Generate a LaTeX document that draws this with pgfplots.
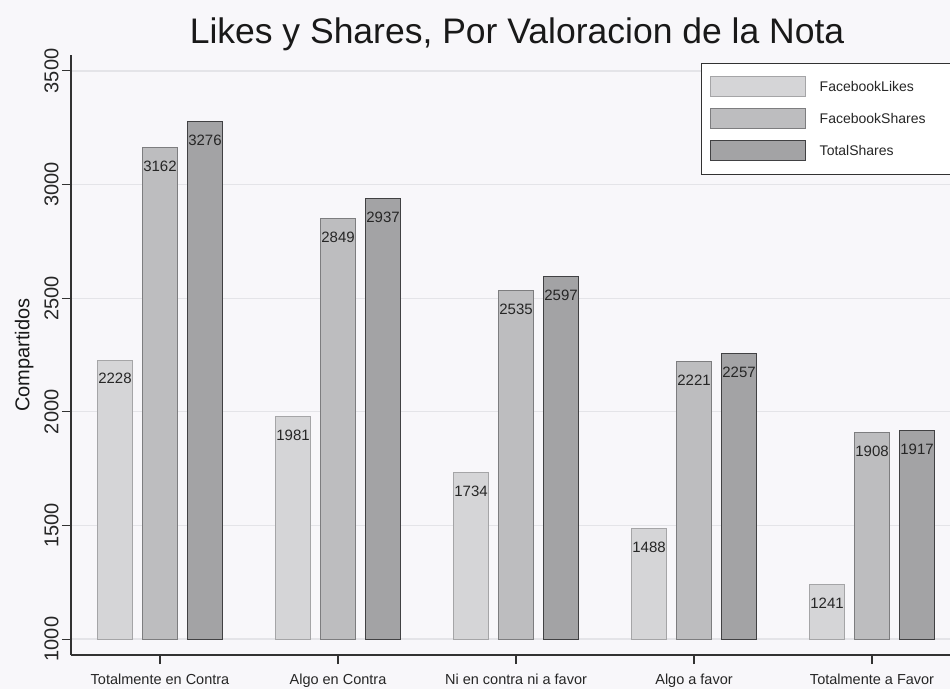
\documentclass[border=0pt]{standalone}
\usepackage{pgfplots}
\usepackage{pgfplotstable}
\pgfplotsset{compat=1.18}
\usepackage{fontspec}
\setmainfont{Liberation Sans}

\definecolor{bgc}{RGB}{248,247,250}
\definecolor{gridc}{RGB}{228,228,232}
\definecolor{lightfill}{RGB}{213,213,215}
\definecolor{lightdraw}{RGB}{165,165,167}
\definecolor{midfill}{RGB}{189,189,191}
\definecolor{middraw}{RGB}{125,125,127}
\definecolor{darkfill}{RGB}{163,163,165}
\definecolor{darkdraw}{RGB}{65,65,67}
\definecolor{axc}{RGB}{50,50,50}

\pgfplotstableread{
x y
0 2228
1 1981
2 1734
3 1488
4 1241
}\likes
\pgfplotstableread{
x y
0 3162
1 2849
2 2535
3 2221
4 1908
}\fbshares
\pgfplotstableread{
x y
0 3276
1 2937
2 2597
3 2257
4 1917
}\totshares

\begin{document}
\begin{tikzpicture}
\path[use as bounding box, fill=bgc] (-71pt,-34pt) rectangle (879pt,655pt);
\begin{axis}[
  at={(0pt,0pt)}, anchor=south west,
  scale only axis, width=879pt, height=600pt,
  xmin=-0.5, xmax=4.438,
  ymin=930, ymax=3570,
  y coord trafo/.code={\pgfmathparse{#1-1000}},
  y coord inv trafo/.code={\pgfmathparse{#1+1000}},
  axis x line*=bottom, axis y line*=left,
  axis line style={color=axc, line width=1.1pt},
  every tick/.style={color=axc, line width=1.1pt},
  tick align=outside, major tick length=9pt,
  xtick={0,1,2,3,4},
  xticklabels={Totalmente en Contra, Algo en Contra, Ni en contra ni a favor, Algo a favor, Totalmente a Favor},
  xticklabel style={font=\fontsize{14.5}{14.5}\selectfont, color=black!85, yshift=-6pt},
  ytick={1000,1500,2000,2500,3000,3500},
  yticklabel style={rotate=90, anchor=south, font=\fontsize{20}{20}\selectfont, color=black!85},
  /pgf/number format/1000 sep={},
  /pgf/number format/assume math mode=true,
  ymajorgrids, major grid style={color=gridc, line width=1.3pt},
  ylabel={Compartidos},
  ylabel style={font=\fontsize{20}{20}\selectfont, color=black!90, yshift=4pt},
  axis background/.style={fill=bgc},
  legend style={at={(axis description cs:0.717,0.987)}, anchor=north west,
    draw=axc, line width=1pt, fill=white, font=\fontsize{14}{14}\selectfont,
    row sep=11pt, inner xsep=8pt, inner ysep=13pt,
    nodes={inner sep=2pt, text=black!85}},
  legend cell align=left,
  legend image code/.code={\draw[#1, line width=1pt] (0pt,-10pt) rectangle (95pt,10pt);},
  every node near coord/.append style={font=\fontsize{15}{15}\selectfont, anchor=north, inner sep=0pt, yshift=-13pt, color=black!85},
]
\addplot[ybar, bar width=0.197, bar shift=-0.253, fill=lightfill, draw=lightdraw, line width=1pt,
  point meta=explicit, nodes near coords,
  every node near coord/.append style={xshift=-45pt}] table[x=x, y=y, meta=y] {\likes};
\addlegendentry{\hspace*{12pt}FacebookLikes\hspace*{20pt}}
\addplot[ybar, bar width=0.197, bar shift=0, fill=midfill, draw=middraw, line width=1pt,
  point meta=explicit, nodes near coords] table[x=x, y=y, meta=y] {\fbshares};
\addlegendentry{\hspace*{12pt}FacebookShares\hspace*{20pt}}
\addplot[ybar, bar width=0.197, bar shift=0.253, fill=darkfill, draw=darkdraw, line width=1pt,
  point meta=explicit, nodes near coords,
  every node near coord/.append style={xshift=45pt}] table[x=x, y=y, meta=y] {\totshares};
\addlegendentry{\hspace*{12pt}TotalShares\hspace*{20pt}}
\end{axis}
\node[font=\fontsize{35.5}{35.5}\selectfont, color=black!90] at (446pt,621pt) {Likes y Shares, Por Valoracion de la Nota};
\end{tikzpicture}
\end{document}
